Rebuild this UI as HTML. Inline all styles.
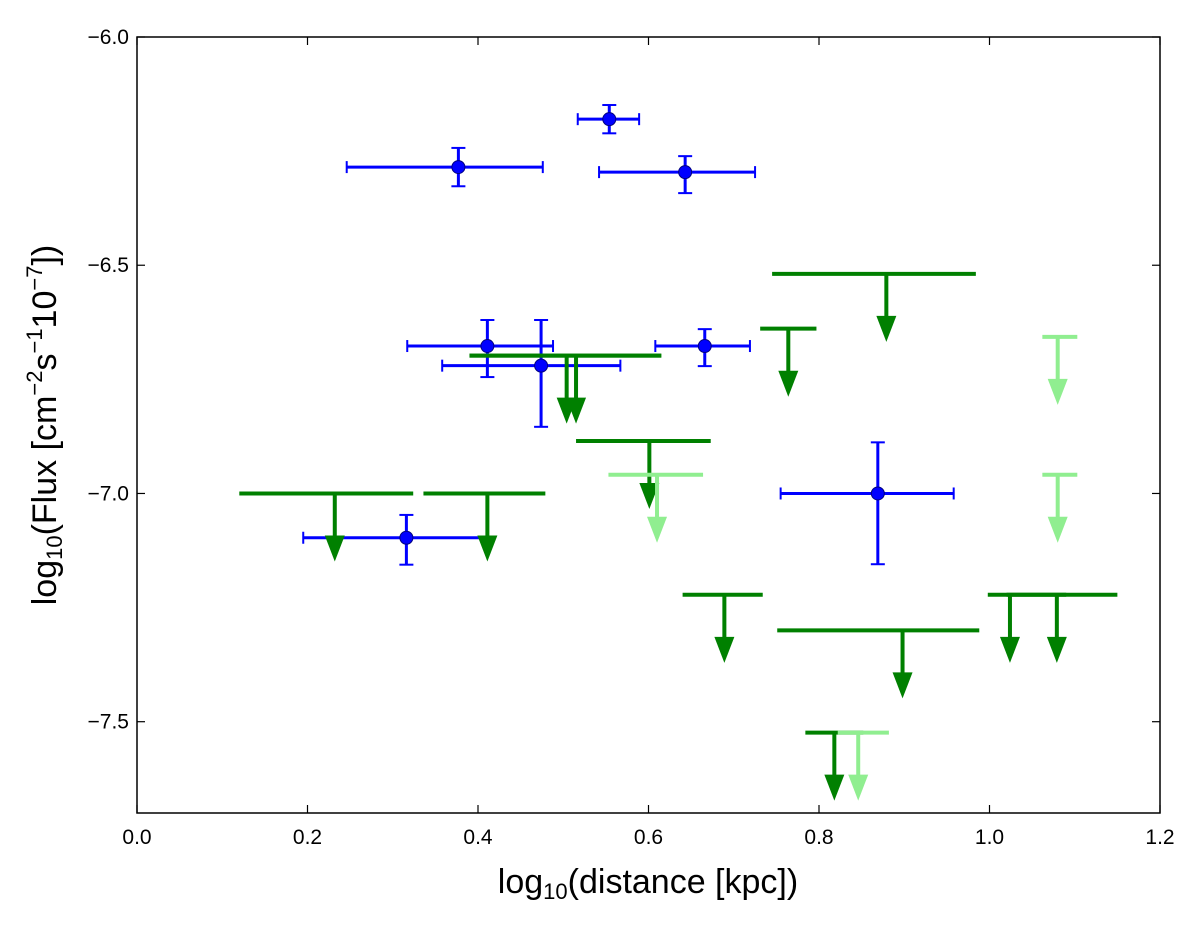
<!DOCTYPE html>
<html><head><meta charset="utf-8"><style>
body{margin:0;background:#fff;}
svg{display:block;font-family:"Liberation Sans",sans-serif;}
</style></head><body>
<svg id="chart" width="1200" height="930" viewBox="0 0 1200 930">
<rect x="137" y="37" width="1023" height="776" fill="#fff" stroke="#000" stroke-width="1.5"/>
<g id="marks"></g>
<g id="axes"></g>
<text x="648" y="893" font-size="34" text-anchor="middle">log<tspan font-size="22" dy="6">10</tspan><tspan dy="-6">(distance [kpc])</tspan></text>
<text transform="translate(56,425) rotate(-90)" font-size="34" text-anchor="middle">log<tspan font-size="22" dy="6">10</tspan><tspan dy="-6">(Flux [cm</tspan><tspan font-size="22" dy="-14">−2</tspan><tspan dy="14">s</tspan><tspan font-size="22" dy="-14">−1</tspan><tspan dy="14">10</tspan><tspan font-size="22" dy="-14">−7</tspan><tspan dy="14">])</tspan></text>
</svg>
<script>
const xTicks=[0.0,0.2,0.4,0.6,0.8,1.0,1.2];
const xTickLabels=["0.0","0.2","0.4","0.6","0.8","1.0","1.2"];
const yTicks=[-6.0,-6.5,-7.0,-7.5];
const yTickLabels=["−6.0","−6.5","−7.0","−7.5"];
const detX=[0.554,0.377,0.643,0.411,0.474,0.666,0.869,0.316];
const detY=[-6.18,-6.285,-6.296,-6.677,-6.72,-6.677,-7.0,-7.097];
const detXErrLo=[0.037,0.131,0.101,0.094,0.116,0.058,0.114,0.121];
const detXErrHi=[0.035,0.099,0.082,0.077,0.093,0.053,0.089,0.095];
const detYErrLo=[0.031,0.042,0.046,0.068,0.134,0.044,0.155,0.059];
const detYErrHi=[0.031,0.042,0.035,0.057,0.10,0.037,0.112,0.05];
const limY=[-7.0,-7.0,-6.698,-6.698,-6.639,-6.519,-6.885,-7.222,-7.30,-7.222,-7.222,-7.524,-6.959,-6.657,-6.959,-7.524];
const limXLo=[0.120,0.336,0.390,0.390,0.731,0.745,0.515,0.640,0.751,0.998,1.02,0.784,0.553,1.062,1.062,0.822];
const limXHi=[0.324,0.479,0.615,0.615,0.797,0.984,0.673,0.734,0.988,1.09,1.150,0.852,0.664,1.103,1.103,0.882];
const limXArrow=[0.232,0.411,0.504,0.515,0.764,0.879,0.601,0.689,0.898,1.024,1.079,0.818,0.610,1.080,1.080,0.846];
const limLight=[0,0,0,0,0,0,0,0,0,0,0,0,1,1,1,1];
const arrowLen=0.149;

const X0=137,X1=1160,Y0=37,Y1=813;
const sx=v=>X0+(v-0)/(1.2)*(X1-X0);
const sy=v=>Y0+(-6.0-v)/(1.7)*(Y1-Y0);
const NS="http://www.w3.org/2000/svg";
const marks=document.getElementById('marks'),axes=document.getElementById('axes');
function mk(tag,attrs,parent){const e=document.createElementNS(NS,tag);for(const k in attrs)e.setAttribute(k,attrs[k]);parent.appendChild(e);return e;}

xTicks.forEach((t,i)=>{
  const x=sx(t);
  const a=mk('line',{x1:x,x2:x,y1:Y1,y2:Y1-8,stroke:'#000','stroke-width':1.2},axes);
  
  
  const b=mk('line',{x1:x,x2:x,y1:Y0,y2:Y0+8,stroke:'#000','stroke-width':1.2},axes);
  
  
  const tx=mk('text',{x:x,y:Y1+31,'font-size':21,'text-anchor':'middle'},axes);
  tx.textContent=xTickLabels[i];
  
  
});
yTicks.forEach((t,i)=>{
  const y=sy(t);
  const a=mk('line',{x1:X0,x2:X0+8,y1:y,y2:y,stroke:'#000','stroke-width':1.2},axes);
  
  
  const b=mk('line',{x1:X1,x2:X1-8,y1:y,y2:y,stroke:'#000','stroke-width':1.2},axes);
  
  
  const tx=mk('text',{x:X0-8,y:y+7,'font-size':21,'text-anchor':'end'},axes);
  tx.textContent=yTickLabels[i];
  
  
});

const blue='#0000ff';
detX.forEach((v,i)=>{
  const g=mk('g',{},marks);
  
  
  const x=sx(v),y=sy(detY[i]);
  const xl=sx(v-detXErrLo[i]),xh=sx(v+detXErrHi[i]);
  const yl=sy(detY[i]-detYErrLo[i]),yh=sy(detY[i]+detYErrHi[i]);
  mk('line',{x1:xl,x2:xh,y1:y,y2:y,stroke:blue,'stroke-width':3},g);
  mk('line',{x1:x,x2:x,y1:yl,y2:yh,stroke:blue,'stroke-width':3},g);
  mk('line',{x1:xl,x2:xl,y1:y-6,y2:y+6,stroke:blue,'stroke-width':2},g);
  mk('line',{x1:xh,x2:xh,y1:y-6,y2:y+6,stroke:blue,'stroke-width':2},g);
  mk('line',{x1:x-7,x2:x+7,y1:yl,y2:yl,stroke:blue,'stroke-width':2},g);
  mk('line',{x1:x-7,x2:x+7,y1:yh,y2:yh,stroke:blue,'stroke-width':2},g);
  mk('circle',{cx:x,cy:y,r:6.5,fill:blue,stroke:'#000080','stroke-width':1},g);
});

limY.forEach((v,i)=>{
  const g=mk('g',{},marks);
  
  
  const c=limLight[i]?'#90ee90':'#008000';
  const y=sy(v),xa=sx(limXArrow[i]),yt=sy(v-arrowLen);
  mk('line',{x1:sx(limXLo[i]),x2:sx(limXHi[i]),y1:y,y2:y,stroke:c,'stroke-width':4},g);
  mk('line',{x1:xa,x2:xa,y1:y,y2:yt-22,stroke:c,'stroke-width':4},g);
  mk('polygon',{points:`${xa-10},${yt-26} ${xa+10},${yt-26} ${xa},${yt}`,fill:c},g);
});
</script>
</body></html>
